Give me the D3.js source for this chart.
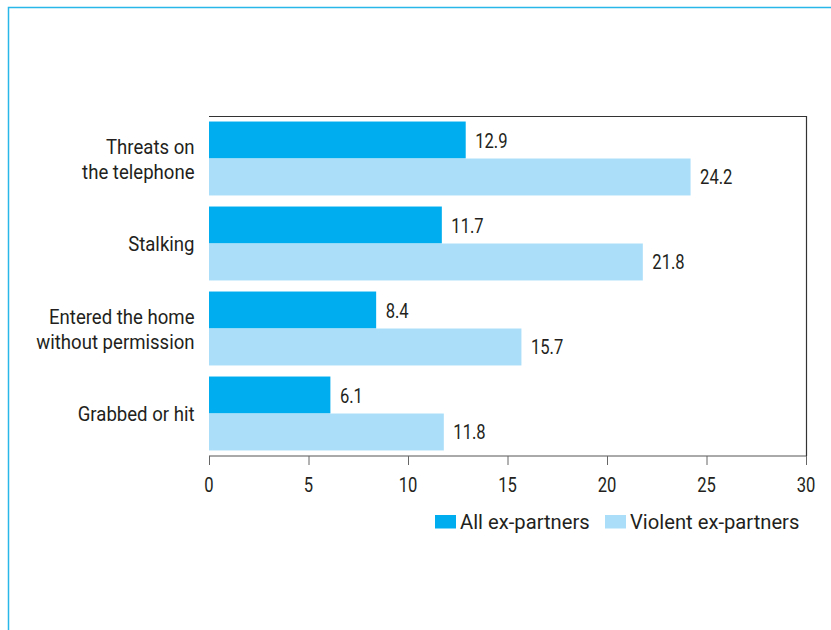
<!DOCTYPE html>
<html><head><meta charset="utf-8">
<script src="https://cdn.jsdelivr.net/npm/d3@7"></script>
<style>body{margin:0;background:#fff}svg{display:block}text{font-family:"Roboto","Liberation Sans",sans-serif;fill:#231f20}</style>
</head><body>
<script>
const categories = [["Threats on","the telephone"],["Stalking"],["Entered the home","without permission"],["Grabbed or hit"]];
const seriesNames = ["All ex-partners","Violent ex-partners"];
const allExPartners = [12.9, 11.7, 8.4, 6.1];
const violentExPartners = [24.2, 21.8, 15.7, 11.8];
const xTicks = [0,5,10,15,20,25,30];
const colors = ["#00aeef","#abdff9"];

const W=831,H=630;
const svg=d3.select("body").append("svg").attr("width",W).attr("height",H);
// frame
svg.append("path").attr("d","M8.5,"+H+"V7.5H"+W).attr("fill","none").attr("stroke","#29b6e8").attr("stroke-width",1.5);

function label(g,x,y,str,anchor,fs,sx){
  return g.append("text").attr("transform",`translate(${x},${y}) scale(${sx},1)`)
    .attr("text-anchor",anchor||"start").attr("font-size",fs).text(str);
}

const m={l:209,r:806,t:116,b:456};
const x=d3.scaleLinear().domain([0,30]).range([m.l,m.r]);
const y=d3.scaleBand().domain(d3.range(categories.length)).range([m.t,m.b]).paddingInner(0.13).paddingOuter(0.065);
const sub=d3.scaleBand().domain([0,1]).range([0,y.bandwidth()]);

// plot box
svg.append("path").attr("d",`M${m.l},${m.t+0.5}H${m.r+0.5}V${m.b}`).attr("fill","none").attr("stroke","#333").attr("stroke-width",1.2);

const data=[allExPartners,violentExPartners];
const lblG=svg.append("g");
data.forEach((vals,s)=>{
  svg.append("g").selectAll("rect").data(vals).join("rect")
    .attr("x",x(0)).attr("y",(d,i)=>y(i)+sub(s)).attr("width",d=>x(d)-x(0)).attr("height",sub.bandwidth())
    .attr("fill",colors[s]);
  vals.forEach((d,i)=>label(lblG,x(d)+9.5,y(i)+sub(s)+sub.bandwidth()/2+7.5,d.toFixed(1),"start",21,0.79));
});

// category labels
categories.forEach((lines,i)=>{
  const cy=y(i)+y.bandwidth()/2, lh=25;
  lines.forEach((ln,j)=>{
    label(svg,194.5,cy+(j-(lines.length-1)/2)*lh+7.5,ln,"end",21,0.885);
  });
});

// x axis
const ax=svg.append("g").attr("transform",`translate(0,${m.b})`)
  .call(d3.axisBottom(x).tickValues(xTicks).tickSize(9).tickFormat(""));
ax.select(".domain").attr("stroke","#555").attr("d",`M${m.l},0H${m.r}`);
ax.selectAll(".tick line").attr("stroke","#666");
xTicks.forEach(t=>label(svg,x(t),492,String(t),"middle",21,0.79));

// legend
const lx=[435,605];
seriesNames.forEach((n,s)=>{
  svg.append("rect").attr("x",lx[s]).attr("y",515).attr("width",21).attr("height",13.5).attr("fill",colors[s]);
  label(svg,lx[s]+25,529,n,"start",20,1.01);
});
</script>
</body></html>
